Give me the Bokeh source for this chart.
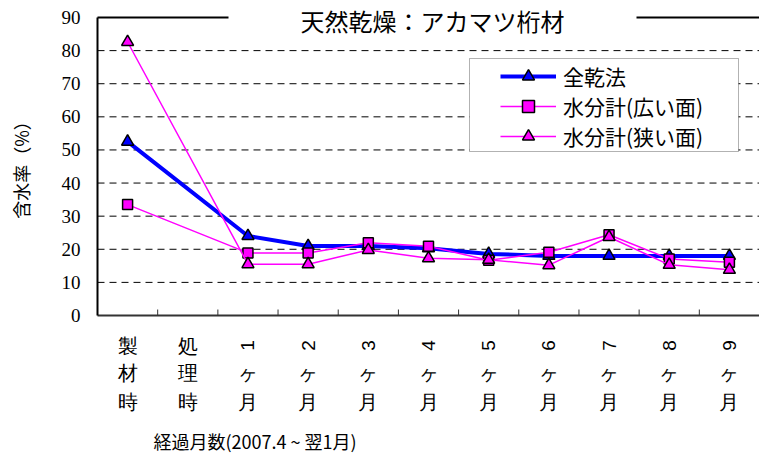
import math
from bokeh.plotting import figure
from bokeh.models import (Range1d, Label, LabelSet, ColumnDataSource,
                          Legend, LegendItem, BoxAnnotation)
from bokeh.embed import file_html
from bokeh.resources import INLINE

# ---- data ----
categories = ["製材時", "処理時", "1ヶ月", "2ヶ月", "3ヶ月", "4ヶ月", "5ヶ月",
              "6ヶ月", "7ヶ月", "8ヶ月", "9ヶ月"]
zenkan = [52.5, None, 24.0, 21.0, 21.0, 20.3, 18.6, 18.0, 18.0, 18.0, 18.0]
hiroi = [33.5, None, 18.9, 18.9, 22.0, 20.9, 16.7, 19.1, 24.4, 17.1, 16.1]
semai = [82.6, None, 15.5, 15.5, 19.8, 17.3, 16.8, 15.2, 23.7, 15.3, 13.8]
series_names = ["全乾法", "水分計(広い面)", "水分計(狭い面)"]
y_ticks = [0, 10, 20, 30, 40, 50, 60, 70, 80, 90]
title_text = "天然乾燥：アカマツ桁材"
ylabel = "含水率（%）"
xlabel = "経過月数(2007.4 ~ 翌1月)"

JP = "Noto Sans CJK JP"
NUM = "Liberation Sans"

# ---- layout (pixels) ----
W, H = 759, 456
LEFT = 97                  # left edge of the plot area
Y0_PX, YTOP_PX = 315, 17   # screen rows of y=0 and y=90
n = len(categories)
ppu = (Y0_PX - YTOP_PX) / (y_ticks[-1] - y_ticks[0])   # pixels per y unit
ppx = (W - LEFT) / n                                    # pixels per category
def yd(px):   # screen row -> data y
    return (Y0_PX - px) / ppu
def xd(px):   # screen column -> data x
    return (px - LEFT) / ppx

p = figure(width=W, height=H, output_backend="svg", toolbar_location=None,
           x_range=Range1d(xd(0), n), y_range=Range1d(yd(H), yd(0)),
           min_border_left=0, min_border_right=0, min_border_top=0, min_border_bottom=0)
p.outline_line_color = None
p.background_fill_color = "white"
p.axis.visible = False
p.grid.visible = False

y0, y1 = y_ticks[0], y_ticks[-1]

# dashed horizontal grid lines
gy = y_ticks[1:-1]
p.segment(x0=[0] * len(gy), y0=gy, x1=[n] * len(gy), y1=gy,
          line_color="black", line_width=1, line_dash="7 5")

# bottom axis line and inward ticks at category boundaries
p.segment(x0=[0], y0=[y0], x1=[n], y1=[y0], line_color="#333333", line_width=2)
bounds = list(range(1, n))
p.ray(x=bounds, y=[y0] * len(bounds), length=6, length_units="screen",
      angle=math.pi / 2, line_color="#333333", line_width=1)

# left axis line
p.segment(x0=[0], y0=[y0], x1=[0], y1=[y1], line_color="black", line_width=2)

# y tick labels
tsrc = ColumnDataSource(dict(x=[xd(80)] * len(y_ticks), y=y_ticks, text=[str(t) for t in y_ticks]))
p.add_layout(LabelSet(x="x", y="y", text="text", source=tsrc, text_font=NUM,
                      text_font_size="19px", text_align="right", text_baseline="middle",
                      text_color="black"))

# y axis title
p.add_layout(Label(x=xd(20), y=yd(165), text=ylabel, angle=math.pi / 2,
                   text_font=JP, text_font_size="18px", text_align="center",
                   text_baseline="middle", text_color="black"))

# top frame line, interrupted by the title
p.segment(x0=[0], y0=[y1], x1=[n], y1=[y1], line_color="black", line_width=2)
pad = "\u3000" * 3
p.add_layout(Label(x=xd(432), y=y1, y_offset=-3, text=pad + title_text + pad,
                   text_font=JP, text_font_size="24px", text_align="center",
                   text_baseline="middle", background_fill_color="white", text_color="black"))

# series
def pts(vals):
    xs = [i + 0.5 for i, v in enumerate(vals) if v is not None]
    ys = [v for v in vals if v is not None]
    return xs, ys

items = []
specs = [
    (zenkan, "#0000FF", 4, "triangle", 12),
    (hiroi, "#FF00FF", 1.5, "square", 10),
    (semai, "#FF00FF", 1.5, "triangle", 12),
]
for (vals, col, lw, mk, sz), name in zip(specs, series_names):
    xs, ys = pts(vals)
    ln = p.line(xs, ys, line_color=col, line_width=lw)
    sc = p.scatter(xs, ys, marker=mk, size=sz, fill_color=col, line_color="black", line_width=1.5)
    items.append(LegendItem(label=name, renderers=[ln, sc]))

# legend frame box, then the legend itself
p.add_layout(BoxAnnotation(left=xd(469), right=xd(738), top=yd(58), bottom=yd(151),
                           fill_color="white", fill_alpha=1.0, line_color="black",
                           line_width=1, level="annotation"))
legend = Legend(items=items, location=(500, H - 151), orientation="vertical",
                label_text_font=JP, label_text_font_size="21px", label_text_color="black",
                glyph_width=56, glyph_height=30, label_height=20, spacing=0, padding=0,
                label_standoff=7, border_line_color=None, background_fill_alpha=0.0)
p.add_layout(legend, "center")

# category labels written vertically (digits turned, in a Latin font)
cjk = dict(x=[], y=[], text=[])
row_px = [345, 372, 401]
for i, cat in enumerate(categories):
    for r, ch in enumerate(cat):
        if ch.isdigit():
            p.add_layout(Label(x=i + 0.5, y=yd(row_px[r]), text=ch, angle=math.pi / 2,
                               text_font=NUM, text_font_size="19px", text_align="center",
                               text_baseline="middle", text_color="black"))
        else:
            cjk["x"].append(i + 0.5)
            cjk["y"].append(yd(row_px[r]))
            cjk["text"].append(ch)
p.add_layout(LabelSet(x="x", y="y", text="text", source=ColumnDataSource(cjk),
                      text_font=JP, text_font_size="20px", text_align="center",
                      text_baseline="middle", text_color="black"))

p.add_layout(Label(x=xd(153), y=yd(440), text=xlabel,
                   text_font=JP, text_font_size="18px", text_align="left",
                   text_baseline="middle", text_color="black"))

open("out.html", "w").write(file_html(p, INLINE))
